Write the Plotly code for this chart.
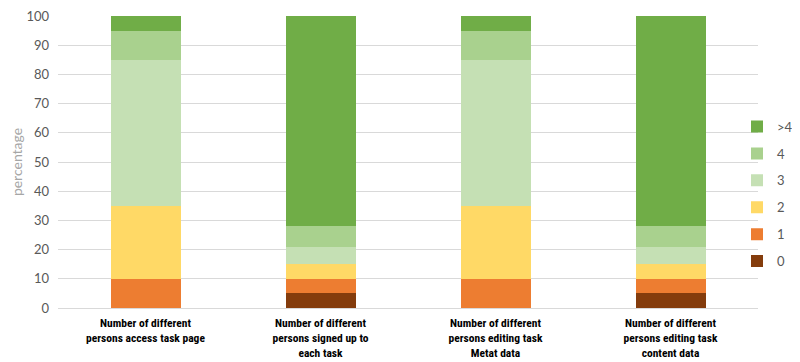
import plotly.graph_objects as go

categories = [
    "<b>Number of different<br>persons access task page</b>",
    "<b>Number of different<br>persons signed up to<br>each task</b>",
    "<b>Number of different<br>persons editing task<br>Metat data</b>",
    "<b>Number of different<br>persons editing task<br>content data</b>",
]
series_names = ["0", "1", "2", "3", "4", ">4"]
v0 = [0, 5, 0, 5]
v1 = [10, 5, 10, 5]
v2 = [25, 5, 25, 5]
v3 = [50, 6, 50, 6]
v4 = [10, 7, 10, 7]
v5 = [5, 72, 5, 72]
values = [v0, v1, v2, v3, v4, v5]
colors = ["#843C0C", "#ED7D31", "#FFD966", "#C5E0B4", "#A9D18E", "#70AD47"]

fig = go.Figure()
n = len(series_names)
for i, (name, vals, col) in enumerate(zip(series_names, values, colors)):
    fig.add_trace(go.Bar(x=categories, y=vals, name=name, marker_color=col,
                         marker_line_width=0, legendgroup=name, legendrank=n - i))

fig.update_layout(
    barmode="stack",
    bargap=0.6,
    width=792, height=354,
    margin=dict(l=50, r=42, t=8, b=54, autoexpand=False),
    plot_bgcolor="white", paper_bgcolor="white",
    font=dict(family="Lato, Open Sans, sans-serif", color="#595959", size=13),
    legend=dict(traceorder="grouped", x=0.970, xanchor="left", y=0.39, yanchor="middle",
                font=dict(size=13, color="#595959"), itemwidth=30, tracegroupgap=7,
                bgcolor="rgba(0,0,0,0)"),
    yaxis=dict(range=[0, 100], dtick=10, gridcolor="#D9D9D9", gridwidth=1,
               zeroline=False, showline=False, ticks="", ticklabelstandoff=8,
               ticklabeloverflow="allow",
               title=dict(text="percentage", font=dict(size=14, color="#A6A6A6"), standoff=10),
               tickfont=dict(size=13, color="#595959")),
    xaxis=dict(showline=True, linecolor="#D9D9D9", linewidth=1, ticks="", ticklabelstandoff=4,
               tickfont=dict(size=11.5, color="#000000",
                             family="Liberation Sans Narrow, Roboto Condensed, Lato, sans-serif")),
)

fig.write_html("out.html")
